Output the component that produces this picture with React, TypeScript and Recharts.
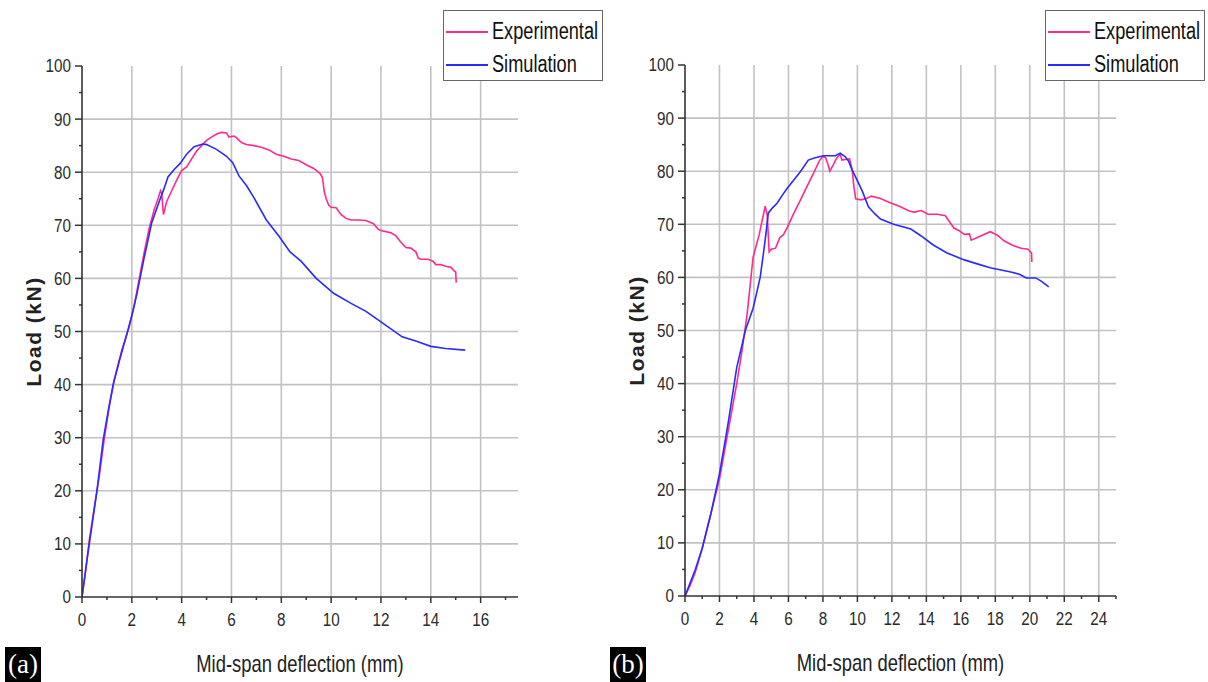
import React from 'react';
import { LineChart, Line, XAxis, YAxis, CartesianGrid, Legend, Label } from 'recharts';

const FONT = '"Liberation Sans", Arial, sans-serif';
const PINK = '#ff2a8e';
const BLUE = '#2a2aff';
const AXIS = '#333333';
const GRID = '#c2c2c2';
const TICK_SQUEEZE = 0.87;
const TITLE_SQUEEZE = 0.8;

// ---- Beam (a) ----
const expADeflection = [0, 0.15, 0.3, 0.5, 0.7, 0.9, 1.1, 1.3, 1.6, 1.9, 2.1, 2.3, 2.5, 2.7, 2.9, 3.05, 3.15, 3.2, 3.27, 3.4, 3.6, 3.8, 4.0, 4.2, 4.4, 4.6, 4.8, 5.0, 5.2, 5.4, 5.6, 5.8, 5.9, 6.1, 6.2, 6.4, 6.6, 6.9, 7.2, 7.5, 7.8, 8.1, 8.4, 8.7, 9.0, 9.3, 9.55, 9.65, 9.72, 9.8, 9.9, 10.0, 10.2, 10.4, 10.6, 10.8, 11.1, 11.4, 11.7, 11.9, 12.1, 12.4, 12.6, 12.8, 13.0, 13.2, 13.4, 13.5, 13.6, 13.9, 14.1, 14.2, 14.4, 14.6, 14.8, 14.9, 15.0, 15.02];
const expALoad = [0, 5, 11, 17, 23, 30, 36, 41, 46.5, 51, 55, 60, 65, 69.5, 73, 75, 76.5, 76, 72, 74.5, 76.5, 78.5, 80.3, 81, 82.5, 84, 85, 86, 86.6, 87.2, 87.5, 87.4, 86.6, 86.8, 86.5, 85.6, 85.2, 85.0, 84.7, 84.2, 83.4, 83.0, 82.5, 82.2, 81.4, 80.7, 79.8, 79, 76.5, 75, 73.8, 73.4, 73.3, 72, 71.3, 71, 71, 70.9, 70.3, 69.2, 68.9, 68.6, 68.0, 66.8, 65.8, 65.7, 65.0, 63.8, 63.6, 63.6, 63.2, 62.6, 62.6, 62.3, 62.1, 61.6, 61.2, 59.2];
const simADeflection = [0, 0.2, 0.4, 0.6, 0.85, 1.05, 1.25, 1.5, 1.8, 2.0, 2.2, 2.5, 2.8, 3.1, 3.3, 3.45, 3.7, 3.95, 4.2, 4.5, 4.85, 5.0, 5.4, 5.8, 6.05, 6.3, 6.6, 6.9, 7.4, 7.9, 8.35, 8.8, 9.4, 10.1, 10.8, 11.4, 12.0, 12.85, 13.4, 14.0, 14.6, 15.38];
const simALoad = [0, 7, 13.5, 20, 29.6, 35, 40, 44.5, 49.5, 53, 57, 64, 70.5, 74.5, 77, 79.1, 80.5, 81.7, 83.4, 84.8, 85.3, 85.2, 84.3, 83, 81.8, 79.3, 77.5, 75.2, 71, 68, 65, 63.2, 60, 57.2, 55.3, 53.8, 51.8, 49, 48.2, 47.2, 46.8, 46.5];

// ---- Beam (b) ----
const expBDeflection = [0, 0.3, 0.6, 1.0, 1.5, 2.0, 2.5, 3.0, 3.3, 3.6, 3.95, 4.3, 4.65, 4.77, 4.88, 5.0, 5.25, 5.5, 5.7, 5.95, 6.3, 6.7, 7.1, 7.45, 7.8, 8.0, 8.15, 8.3, 8.4, 8.6, 8.8, 9.0, 9.1, 9.3, 9.55, 9.7, 9.8, 9.9, 10.2, 10.5, 10.8, 11.3, 11.8, 12.5, 13.0, 13.3, 13.7, 14.1, 14.65, 15.1, 15.4, 15.6, 15.9, 16.2, 16.5, 16.6, 17.15, 17.7, 18.1, 18.5, 18.8, 19.1, 19.5, 19.9, 20.1, 20.12];
const expBLoad = [0, 2, 4.5, 9, 15.5, 22, 31, 40, 46, 53, 63.8, 68, 73.4, 71.8, 64.8, 65.3, 65.5, 67.5, 68, 69.5, 72, 74.6, 77.3, 79.6, 82, 82.8, 82.6, 81.2, 80, 81.2, 82.5, 83.2, 82.1, 82.2, 82.3, 80.2, 77, 74.8, 74.6, 74.8, 75.3, 74.9, 74.2, 73.3, 72.5, 72.3, 72.6, 71.9, 71.9, 71.6, 70.2, 69.3, 68.8, 68.1, 68.2, 67.0, 67.8, 68.6, 68, 66.9, 66.4, 65.9, 65.5, 65.3, 64.6, 62.9];
const simBDeflection = [0, 0.3, 0.6, 1.0, 1.5, 2.0, 2.5, 3.0, 3.5, 3.95, 4.15, 4.36, 4.55, 4.7, 4.83, 5.05, 5.35, 5.65, 5.93, 6.3, 6.69, 7.15, 7.5, 8.02, 8.5, 8.72, 9.0, 9.3, 9.5, 9.7, 10.06, 10.3, 10.64, 11.0, 11.34, 12.1, 13.1, 13.7, 14.4, 15.2, 16.2, 17.0, 17.7, 18.9, 19.4, 19.8, 20.35, 20.7, 21.1];
const simBLoad = [0, 2.5, 5, 9, 15.5, 23, 32.5, 43, 50, 54.2, 57, 60, 64.5, 68.4, 72.1, 73, 74, 75.5, 76.8, 78.3, 79.9, 82.1, 82.5, 82.9, 82.9, 82.9, 83.4, 82.7, 81.8, 80.2, 77.8, 76.1, 73.3, 72, 71, 70, 69.1, 67.8, 66.1, 64.6, 63.3, 62.5, 61.8, 61.0, 60.6, 59.9, 59.9, 59.2, 58.2];

// ---- Axis ticks and grid values ----
const loadTicks = [0, 5, 10, 15, 20, 25, 30, 35, 40, 45, 50, 55, 60, 65, 70, 75, 80, 85, 90, 95, 100];
const loadGrid = [10, 20, 30, 40, 50, 60, 70, 80, 90];
const deflTicksA = [0, 1, 2, 3, 4, 5, 6, 7, 8, 9, 10, 11, 12, 13, 14, 15, 16, 17];
const deflGridA = [2, 4, 6, 8, 10, 12, 14, 16];
const deflTicksB = [0, 1, 2, 3, 4, 5, 6, 7, 8, 9, 10, 11, 12, 13, 14, 15, 16, 17, 18, 19, 20, 21, 22, 23, 24, 25];
const deflGridB = [2, 4, 6, 8, 10, 12, 14, 16, 18, 20, 22, 24];

const toPoints = (ds: number[], ls: number[]) => ds.map((d, i) => ({ d, load: ls[i] }));

function YTick(props: any) {
  const { x, y, payload } = props;
  const major = payload.value % 10 === 0;
  return (
    <g>
      <line x1={x} x2={x - (major ? 7 : 3)} y1={y} y2={y} stroke={AXIS} strokeWidth={1.5} />
      {major && (
        <text transform={`translate(${x - 11} ${y}) scale(${TICK_SQUEEZE} 1)`} textAnchor="end" dominantBaseline="central"
          fontSize={17.5} fill="#2a2a2a" fontFamily={FONT}>
          {payload.value}
        </text>
      )}
    </g>
  );
}

function XTick(props: any) {
  const { x, y, payload } = props;
  const major = payload.value % 2 === 0;
  return (
    <g>
      <line x1={x} x2={x} y1={y} y2={y + (major ? 6 : 3)} stroke={AXIS} strokeWidth={1.5} />
      {major && (
        <text transform={`translate(${x} ${y + 23}) scale(${TICK_SQUEEZE} 1)`} textAnchor="middle" dominantBaseline="central"
          fontSize={17.5} fill="#2a2a2a" fontFamily={FONT}>
          {payload.value}
        </text>
      )}
    </g>
  );
}

function YTitle(props: any) {
  const { viewBox } = props;
  const cx = viewBox.x + 1;
  const cy = viewBox.y + viewBox.height / 2;
  return (
    <text x={cx} y={cy} transform={`rotate(-90 ${cx} ${cy})`} textAnchor="middle" dominantBaseline="central"
      fontSize={21} fontWeight="bold" letterSpacing={1.5} fill="#222" fontFamily={FONT}>
      Load (kN)
    </text>
  );
}

function XTitle(props: any) {
  const { viewBox } = props;
  const cx = viewBox.x + viewBox.width / 2;
  const cy = viewBox.y + 67;
  return (
    <text transform={`translate(${cx} ${cy}) scale(${TITLE_SQUEEZE} 1)`} textAnchor="middle" dominantBaseline="central"
      fontSize={23} fill="#222" fontFamily={FONT}>
      Mid-span deflection (mm)
    </text>
  );
}

function LegendBox(props: any) {
  const { payload } = props;
  return (
    <div style={{ border: '1px solid #666', background: '#fff', width: 160, height: 71, boxSizing: 'border-box', paddingTop: 4, paddingLeft: 2, fontFamily: FONT, fontSize: 23, color: '#111', textAlign: 'left' }}>
      {(payload || []).map((entry: any) => (
        <div key={entry.value} style={{ display: 'flex', alignItems: 'center', height: 33, whiteSpace: 'nowrap' }}>
          <span style={{ display: 'inline-block', width: 42, height: 2, background: entry.color, marginRight: 4, flex: 'none' }} />
          <span style={{ display: 'inline-block', transform: 'scaleX(0.79)', transformOrigin: 'left center' }}>{entry.value}</span>
        </div>
      ))}
    </div>
  );
}

type PanelProps = {
  exp: { d: number; load: number }[];
  sim: { d: number; load: number }[];
  maxDefl: number;
  deflTicks: number[];
  deflGrid: number[];
  top: number;
  right: number;
  legendLeft: number;
};

function Panel({ exp, sim, maxDefl, deflTicks, deflGrid, top, right, legendLeft }: PanelProps) {
  return (
    <LineChart width={605} height={682} margin={{ top, right, bottom: 682 - top - 531 - 30, left: 32 }}>
      <CartesianGrid horizontalValues={loadGrid} verticalValues={deflGrid} stroke={GRID} strokeWidth={1.6} />
      <XAxis
        type="number"
        dataKey="d"
        domain={[0, maxDefl]}
        ticks={deflTicks}
        interval={0}
        height={30}
        tickSize={0}
        tickMargin={0}
        tickLine={false}
        tick={<XTick />}
        axisLine={{ stroke: AXIS, strokeWidth: 1.6 }}
        allowDataOverflow
      >
        <Label content={<XTitle />} />
      </XAxis>
      <YAxis
        type="number"
        domain={[0, 100]}
        ticks={loadTicks}
        interval={0}
        width={50}
        tickSize={0}
        tickMargin={0}
        tickLine={false}
        tick={<YTick />}
        axisLine={{ stroke: AXIS, strokeWidth: 1.6 }}
      >
        <Label content={<YTitle />} />
      </YAxis>
      <Legend
        layout="vertical"
        align="center"
        verticalAlign="middle"
        content={<LegendBox />}
        wrapperStyle={{ left: legendLeft, top: 10, width: 160 }}
      />
      <Line name="Experimental" data={exp} dataKey="load" type="linear" stroke={PINK} strokeWidth={1.6} dot={false} isAnimationActive={false} />
      <Line name="Simulation" data={sim} dataKey="load" type="linear" stroke={BLUE} strokeWidth={1.6} dot={false} isAnimationActive={false} />
    </LineChart>
  );
}

function Tag({ text, left }: { text: string; left: number }) {
  return (
    <div style={{ position: 'absolute', left, top: 647, width: 36, height: 35, background: '#000', color: '#fff', fontFamily: '"Liberation Serif", "Times New Roman", serif', fontSize: 27, lineHeight: '35px', textAlign: 'center' }}>
      {text}
    </div>
  );
}

export default function App() {
  return (
    <div style={{ position: 'absolute', left: 0, top: 0, width: 1208, height: 682, background: '#fff', overflow: 'hidden' }}>
      <div style={{ position: 'absolute', left: 0, top: 0 }}>
        <Panel exp={toPoints(expADeflection, expALoad)} sim={toPoints(simADeflection, simALoad)} maxDefl={17.5}
          deflTicks={deflTicksA} deflGrid={deflGridA} top={66} right={87} legendLeft={443} />
      </div>
      <div style={{ position: 'absolute', left: 603, top: 0 }}>
        <Panel exp={toPoints(expBDeflection, expBLoad)} sim={toPoints(simBDeflection, simBLoad)} maxDefl={25}
          deflTicks={deflTicksB} deflGrid={deflGridB} top={65} right={92} legendLeft={442} />
      </div>
      <Tag text="(a)" left={5} />
      <Tag text="(b)" left={610} />
    </div>
  );
}
